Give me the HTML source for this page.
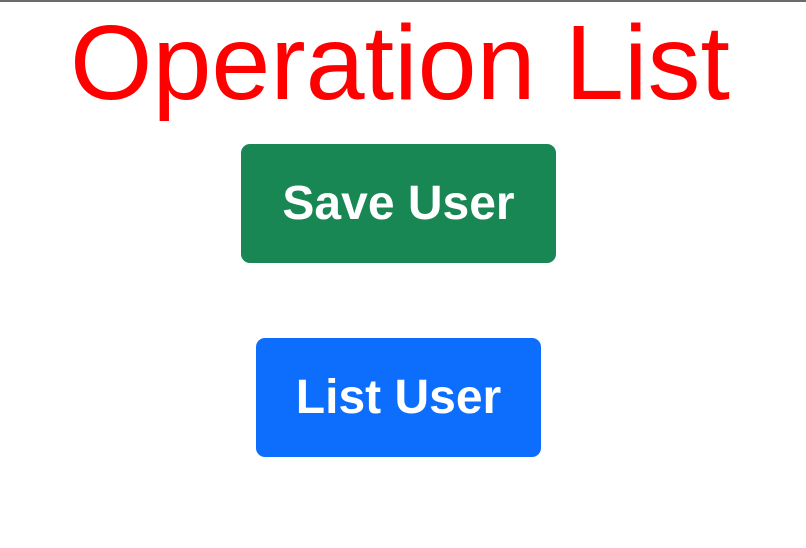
<!DOCTYPE html>
<html><head><style>
html,body{margin:0;padding:0;width:806px;height:548px;background:#fff;overflow:hidden;font-family:"Liberation Sans",sans-serif;}
.top{position:absolute;left:0;top:0;width:806px;height:2px;background:#6b6b6b;}
h1{position:absolute;left:0;top:8px;width:800px;margin:0;text-align:center;color:#ff0000;font-weight:normal;font-size:106px;line-height:110px;}
.btn{position:absolute;color:#fff;border-radius:9px;display:flex;align-items:center;justify-content:center;font-size:48px;font-weight:bold;}
.g{left:241px;top:144px;width:315px;height:119px;background:#198754;}
.b{left:256px;top:338px;width:285px;height:119px;background:#0d6efd;}
</style></head><body>
<div class="top"></div>
<h1>Operation List</h1>
<div class="btn g">Save User</div>
<div class="btn b">List User</div>
</body></html>
